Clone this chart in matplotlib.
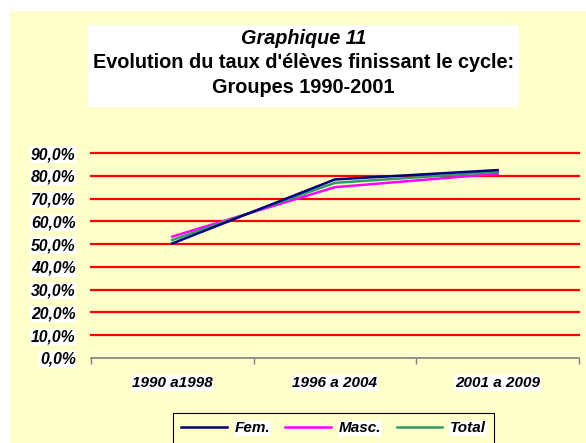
import matplotlib
matplotlib.use("Agg")
import matplotlib.pyplot as plt
from matplotlib.patches import Rectangle
import numpy as np

plt.rcParams['font.family'] = ['Liberation Sans', 'DejaVu Sans']

categories = ["1990 a1998", "1996 a 2004", "2001 a 2009"]
fem = [50.3, 78.4, 82.5]
masc = [53.3, 75.0, 80.9]
total = [51.8, 76.9, 81.7]
yticks = [0, 10, 20, 30, 40, 50, 60, 70, 80, 90]
ytick_labels = ["0,0%", "10,0%", "20,0%", "30,0%", "40,0%", "50,0%",
                "60,0%", "70,0%", "80,0%", "90,0%"]

W, H = 586, 443
fig = plt.figure(figsize=(W / 100, H / 100), dpi=100)
fig.patch.set_facecolor("white")

bg = "#FFFFCC"
fs = 11
# yellow chart area
fig.patches.append(Rectangle((10 / W, 0), (W - 10) / W, (H - 11) / H,
                             transform=fig.transFigure, facecolor=bg,
                             edgecolor="none", zorder=-10))
# white title box
fig.patches.append(Rectangle((88 / W, 1 - 107 / H), (519 - 88) / W, (107 - 25) / H,
                             transform=fig.transFigure, facecolor="white",
                             edgecolor="none", zorder=-5))
cx = 303.5 / W
tfs = 14.3
fig.text(cx, 1 - 38 / H, "Graphique 11", ha="center", va="center",
         fontsize=tfs, fontweight="bold", style="italic", zorder=2)
fig.text(cx, 1 - 63 / H, "Evolution du taux d'élèves finissant le cycle:",
         ha="center", va="center", fontsize=tfs, fontweight="bold", zorder=2)
fig.text(cx, 1 - 88 / H, "Groupes 1990-2001", ha="center", va="center",
         fontsize=tfs, fontweight="bold", zorder=2)

left, right = 91 / W, 579 / W
bottom, top = 1 - 358 / H, 1 - 153 / H
ax = fig.add_axes([left, bottom, right - left, top - bottom])
ax.set_facecolor("none")
ax.set_xlim(0, 3)
ax.set_ylim(0, 90)

for v in yticks[1:]:
    ax.axhline(v, color="#FF0000", lw=1.6, zorder=1, clip_on=False)

x = np.arange(len(categories)) + 0.5
ax.plot(x, masc, color="#FF00FF", lw=1.8, label="Masc.", zorder=3)
ax.plot(x, total, color="#339966", lw=1.8, label="Total", zorder=4)
ax.plot(x, fem, color="#000080", lw=1.8, label="Fem.", zorder=5)

for s in ["top", "right", "left"]:
    ax.spines[s].set_visible(False)
ax.spines["bottom"].set_color("#808080")
ax.spines["bottom"].set_linewidth(1.2)

ax.set_xticks([0, 1, 2, 3])
ax.set_xticklabels([])
ax.tick_params(axis="x", direction="out", length=4, color="#808080", width=1)
ax.set_xticks(x, minor=True)
ax.set_xticklabels(categories, minor=True)
ax.tick_params(axis="x", which="minor", length=0, pad=13)
for t in ax.get_xticklabels(minor=True):
    t.set_fontweight("bold")
    t.set_style("italic")
    t.set_fontsize(fs)
    t.set_bbox(dict(facecolor="white", edgecolor="none", pad=0.5))

ax.set_yticks(yticks)
ax.set_yticklabels(ytick_labels)
ax.tick_params(axis="y", length=0, pad=11)
for t in ax.get_yticklabels():
    t.set_fontweight("bold")
    t.set_style("italic")
    t.set_fontsize(fs + 0.3)
    t.set_bbox(dict(facecolor="white", edgecolor="none", pad=0.5))

handles, labels = ax.get_legend_handles_labels()
order = [2, 0, 1]
leg = fig.legend([handles[i] for i in order], [labels[i] for i in order],
                 loc="upper center", bbox_to_anchor=(333.5 / W, 1 - 413 / H),
                 borderaxespad=0,
                 ncol=3, frameon=True, fancybox=False, edgecolor="black",
                 facecolor=bg, framealpha=1, handlelength=3.0,
                 columnspacing=1.0, handletextpad=0.5, borderpad=0.55,
                 prop=dict(weight="bold", style="italic", size=fs))
leg.get_frame().set_linewidth(0.8)
for t in leg.get_texts():
    t.set_bbox(dict(facecolor="white", edgecolor="none", pad=0.5))

fig.savefig("out.png", dpi=100, facecolor="white")
